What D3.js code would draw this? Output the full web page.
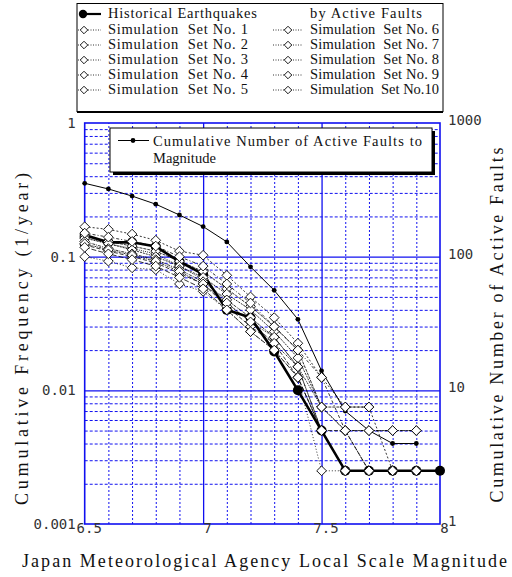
<!DOCTYPE html>
<html>
<head>
<meta charset="utf-8">
<script src="https://cdn.jsdelivr.net/npm/d3@7"></script>
<style>
  html, body { margin: 0; padding: 0; background: #fff; }
  svg { display: block; }
  .serif { font-family: "Liberation Serif", "Times New Roman", serif; fill: #111; }
  .mono { font-family: "DejaVu Sans Mono", "Liberation Mono", monospace; fill: #333; }
</style>
</head>
<body>
<svg id="chart" width="512" height="577"></svg>
<script>
// Magnitude bins (JMA scale)
const magnitudes = [6.5, 6.6, 6.7, 6.8, 6.9, 7.0, 7.1, 7.2, 7.3, 7.4, 7.5, 7.6, 7.7, 7.8, 7.9, 8.0];

// Historical earthquakes, cumulative frequency (1/year)
const historical = [0.145, 0.128, 0.128, 0.119, 0.092, 0.074, 0.040, 0.035, 0.0195, 0.010, 0.005, 0.0025, 0.0025, 0.0025, 0.0025, 0.0025];

// Cumulative number of active faults (right axis)
const faultMags = [6.5, 6.6, 6.7, 6.8, 6.9, 7.0, 7.1, 7.2, 7.3, 7.4, 7.5, 7.6, 7.7, 7.8, 7.9];
const faultCounts = [354, 321, 284, 247, 205, 168, 129, 84, 56, 34, 14, 7, 5, 4, 4];

// Simulated cumulative frequency by active faults, sets 1-10 (from M6.5 upward)
const sim1  = [0.140, 0.125, 0.115, 0.105, 0.085, 0.0675, 0.045, 0.0325, 0.025, 0.015, 0.005, 0.0025, 0.0025, 0.0025, 0.0025];
const sim2  = [0.1675, 0.160, 0.1475, 0.1325, 0.110, 0.1025, 0.0725, 0.050, 0.035, 0.0225, 0.0125, 0.0075, 0.0075, 0.0025];
const sim3  = [0.100, 0.0925, 0.0825, 0.080, 0.0625, 0.055, 0.040, 0.0275, 0.020, 0.0125, 0.0025, 0.0025];
const sim4  = [0.1425, 0.130, 0.120, 0.110, 0.0925, 0.0775, 0.0575, 0.0425, 0.030, 0.020, 0.0075, 0.0075, 0.0075];
const sim5  = [0.1375, 0.125, 0.1125, 0.100, 0.085, 0.070, 0.0525, 0.040, 0.0275, 0.0175, 0.0075, 0.005, 0.005, 0.005, 0.005];
const sim6  = [0.1225, 0.110, 0.100, 0.090, 0.075, 0.0625, 0.0425, 0.030, 0.0225, 0.0125, 0.005, 0.005, 0.0025];
const sim7  = [0.130, 0.115, 0.105, 0.095, 0.080, 0.065, 0.0475, 0.035, 0.025, 0.015, 0.005, 0.0025, 0.0025];
const sim8  = [0.150, 0.140, 0.130, 0.120, 0.100, 0.085, 0.0625, 0.045, 0.030, 0.020, 0.0125, 0.005, 0.005, 0.005, 0.005];
const sim9  = [0.125, 0.1125, 0.1025, 0.0925, 0.0775, 0.0625, 0.045, 0.0325, 0.0225, 0.015, 0.0075, 0.005, 0.0025];
const sim10 = [0.1175, 0.105, 0.095, 0.085, 0.070, 0.0575, 0.040, 0.0275, 0.020, 0.0125, 0.005, 0.0025, 0.0025, 0.0025, 0.0025];
const simSets = [sim1, sim2, sim3, sim4, sim5, sim6, sim7, sim8, sim9, sim10];
const simNames = ["Simulation  Set No. 1", "Simulation  Set No. 2", "Simulation  Set No. 3",
                  "Simulation  Set No. 4", "Simulation  Set No. 5", "Simulation  Set No. 6",
                  "Simulation  Set No. 7", "Simulation  Set No. 8", "Simulation  Set No. 9",
                  "Simulation  Set No.10"];

// Axis ticks
const xTicks = [6.5, 7, 7.5, 8];
const xTickLabels = ["6.5", "7", "7.5", "8"];
const yTicks = [0.001, 0.01, 0.1, 1];
const yTickLabels = ["0.001", "0.01", "0.1", "1"];
const y2Ticks = [1, 10, 100, 1000];
const y2TickLabels = ["1", "10", "100", "1000"];

const dashes = ["1,1", "2,2", "1,2", "3,1", "2,1", "4,2", "1,1,3,1", "3,2,1,2", "2,1,1,1", "5,2"];

const svg = d3.select("#chart");
const L = 84.7, R = 440, T = 123, B = 524;
const blue = "#1010f0";

const x = d3.scaleLinear().domain([6.5, 8]).range([L, R]);
const y = d3.scaleLog().domain([0.001, 1]).range([B, T]);
const y2 = d3.scaleLog().domain([1, 1000]).range([B, T]);

// ---- grid ----
const minorX = d3.range(66, 80).map(v => v / 10).filter(v => v !== 7 && v !== 7.5);
const minorY = [];
[0.001, 0.01, 0.1].forEach(d => { for (let k = 2; k <= 9; k++) minorY.push(d * k); });

const grid = svg.append("g");
grid.append("g").attr("transform", `translate(0,${B})`)
  .call(d3.axisBottom(x).tickValues(minorX).tickSize(-(B - T)).tickFormat(""))
  .call(g => g.select(".domain").remove())
  .call(g => g.selectAll("line").attr("stroke", blue).attr("stroke-width", 1).attr("stroke-dasharray", "2,2"));
grid.append("g").attr("transform", `translate(${L},0)`)
  .call(d3.axisLeft(y).tickValues(minorY).tickSize(-(R - L)).tickFormat(""))
  .call(g => g.select(".domain").remove())
  .call(g => g.selectAll("line").attr("stroke", blue).attr("stroke-width", 1).attr("stroke-dasharray", "3,2"));
grid.append("g").attr("transform", `translate(0,${B})`)
  .call(d3.axisBottom(x).tickValues([7, 7.5]).tickSize(-(B - T)).tickFormat(""))
  .call(g => g.select(".domain").remove())
  .call(g => g.selectAll("line").attr("stroke", blue).attr("stroke-width", 1.3));
grid.append("g").attr("transform", `translate(${L},0)`)
  .call(d3.axisLeft(y).tickValues([0.01, 0.1]).tickSize(-(R - L)).tickFormat(""))
  .call(g => g.select(".domain").remove())
  .call(g => g.selectAll("line").attr("stroke", blue).attr("stroke-width", 1.3));
svg.append("rect").attr("x", L).attr("y", T).attr("width", R - L).attr("height", B - T)
  .attr("fill", "none").attr("stroke", blue).attr("stroke-width", 1.6);

// ---- tick labels ----
const axB = svg.append("g").attr("transform", `translate(4,${B})`)
  .call(d3.axisBottom(x).tickValues(xTicks).tickSize(0).tickPadding(0)
    .tickFormat((d, i) => xTickLabels[i]));
axB.select(".domain").remove();
axB.selectAll("text").attr("class", "mono").attr("font-size", 14).attr("dy", "0.64em").attr("y", 0);

const axL = svg.append("g").attr("transform", `translate(${L - 9},0)`)
  .call(d3.axisLeft(y).tickValues(yTicks).tickSize(0).tickPadding(0)
    .tickFormat((d, i) => yTickLabels[i]));
axL.select(".domain").remove();
axL.selectAll("text").attr("class", "mono").attr("font-size", 14);

const axR = svg.append("g").attr("transform", `translate(${R + 8},0)`)
  .call(d3.axisRight(y2).tickValues(y2Ticks).tickSize(0).tickPadding(0)
    .tickFormat((d, i) => y2TickLabels[i]));
axR.select(".domain").remove();
axR.selectAll("text").attr("class", "mono").attr("font-size", 14).attr("dy", "0.1em");

// ---- axis titles ----
svg.append("text").attr("class", "serif").attr("font-size", 18)
  .attr("transform", "translate(28,339) rotate(-90)").attr("text-anchor", "middle")
  .attr("textLength", 332).attr("lengthAdjust", "spacing")
  .text("Cumulative Frequency (1/year)");
svg.append("text").attr("class", "serif").attr("font-size", 18)
  .attr("transform", "translate(503,325) rotate(-90)").attr("text-anchor", "middle")
  .attr("textLength", 355).attr("lengthAdjust", "spacing")
  .text("Cumulative Number of Active Faults");
svg.append("text").attr("class", "serif").attr("font-size", 18)
  .attr("x", 22).attr("y", 567)
  .attr("textLength", 485).attr("lengthAdjust", "spacing")
  .text("Japan Meteorological Agency Local Scale Magnitude");

// ---- data ----
const line = d3.line().x(d => x(d[0])).y(d => y(d[1]));
const line2 = d3.line().x(d => x(d[0])).y(d => y2(d[1]));
const diamond = d3.symbol().type(d3.symbolDiamond2).size(60);

// historical
const hist = magnitudes.map((m, i) => [m, historical[i]]);
svg.append("path").attr("d", line(hist)).attr("fill", "none")
  .attr("stroke", "#000").attr("stroke-width", 2.6);
svg.append("g").selectAll("circle").data(hist).join("circle")
  .attr("cx", d => x(d[0])).attr("cy", d => y(d[1])).attr("r", 5).attr("fill", "#000");

// active faults
const faults = faultMags.map((m, i) => [m, faultCounts[i]]);
svg.append("path").attr("d", line2(faults)).attr("fill", "none")
  .attr("stroke", "#000").attr("stroke-width", 1);
svg.append("g").selectAll("circle").data(faults).join("circle")
  .attr("cx", d => x(d[0])).attr("cy", d => y2(d[1])).attr("r", 2.4).attr("fill", "#000");

// simulations
simSets.forEach((s, k) => {
  const pts = s.map((v, i) => [magnitudes[i], v]);
  svg.append("path").attr("d", line(pts)).attr("fill", "none")
    .attr("stroke", "#000").attr("stroke-width", 0.8).attr("stroke-dasharray", dashes[k]);
});
simSets.forEach((s) => {
  const pts = s.map((v, i) => [magnitudes[i], v]);
  svg.append("g").selectAll("path").data(pts).join("path")
    .attr("d", diamond)
    .attr("transform", d => `translate(${x(d[0])},${y(d[1])})`)
    .attr("fill", "#fff").attr("stroke", "#000").attr("stroke-width", 0.9);
});

// ---- top legend ----
const lg = svg.append("g");
lg.append("rect").attr("x", 77).attr("y", 3.5).attr("width", 366).attr("height", 108)
  .attr("fill", "#fff").attr("stroke", "#000").attr("stroke-width", 1);
lg.append("line").attr("x1", 77).attr("x2", 443).attr("y1", 112).attr("y2", 112)
  .attr("stroke", "#000").attr("stroke-width", 2);
const rowY = [18, 34, 49, 64, 79, 94];
// historical entry
lg.append("line").attr("x1", 80).attr("x2", 101).attr("y1", rowY[0] - 4).attr("y2", rowY[0] - 4)
  .attr("stroke", "#000").attr("stroke-width", 2.2);
lg.append("circle").attr("cx", 83).attr("cy", rowY[0] - 4).attr("r", 4.2).attr("fill", "#000");
lg.append("text").attr("class", "serif").attr("font-size", 14.5)
  .attr("x", 108).attr("y", rowY[0]).attr("textLength", 149).attr("lengthAdjust", "spacing")
  .text("Historical Earthquakes");
lg.append("text").attr("class", "serif").attr("font-size", 14.5)
  .attr("x", 310).attr("y", rowY[0]).attr("textLength", 112).attr("lengthAdjust", "spacing")
  .text("by Active Faults");
const legDiamond = d3.symbol().type(d3.symbolDiamond2).size(36);
simNames.forEach((name, k) => {
  const col = k < 5 ? 0 : 1;
  const ry = rowY[(k % 5) + 1];
  const mx = col === 0 ? 84 : 288;
  const x1 = col === 0 ? 78 : 273;
  const x2 = col === 0 ? 101 : 303;
  const tx = col === 0 ? 108 : 310;
  lg.append("line").attr("x1", x1).attr("x2", x2).attr("y1", ry - 4).attr("y2", ry - 4)
    .attr("stroke", "#000").attr("stroke-width", 0.8).attr("stroke-dasharray", "1,1.5");
  lg.append("path").attr("d", legDiamond).attr("transform", `translate(${mx},${ry - 4})`)
    .attr("fill", "#fff").attr("stroke", "#000").attr("stroke-width", 0.9);
  lg.append("text").attr("class", "serif").attr("font-size", 14.5)
    .attr("x", tx).attr("y", ry).attr("textLength", col === 0 ? 140 : 129).attr("lengthAdjust", "spacing")
    .attr("xml:space", "preserve").style("white-space", "pre")
    .text(name);
});

// ---- inner legend (active faults) ----
const il = svg.append("g");
il.append("rect").attr("x", 113).attr("y", 131).attr("width", 322).attr("height", 44).attr("fill", "#000");
il.append("rect").attr("x", 110).attr("y", 128).attr("width", 322).attr("height", 44)
  .attr("fill", "#fff").attr("stroke", "#000").attr("stroke-width", 1);
il.append("line").attr("x1", 118).attr("x2", 149).attr("y1", 140.5).attr("y2", 140.5)
  .attr("stroke", "#000").attr("stroke-width", 1);
il.append("circle").attr("cx", 133).attr("cy", 140.5).attr("r", 2.4).attr("fill", "#000");
il.append("text").attr("class", "serif").attr("font-size", 14.5)
  .attr("x", 153).attr("y", 146).attr("textLength", 269).attr("lengthAdjust", "spacing")
  .text("Cumulative Number of Active Faults to");
il.append("text").attr("class", "serif").attr("font-size", 14.5)
  .attr("x", 153).attr("y", 162.5)
  .text("Magnitude");
</script>
</body>
</html>
